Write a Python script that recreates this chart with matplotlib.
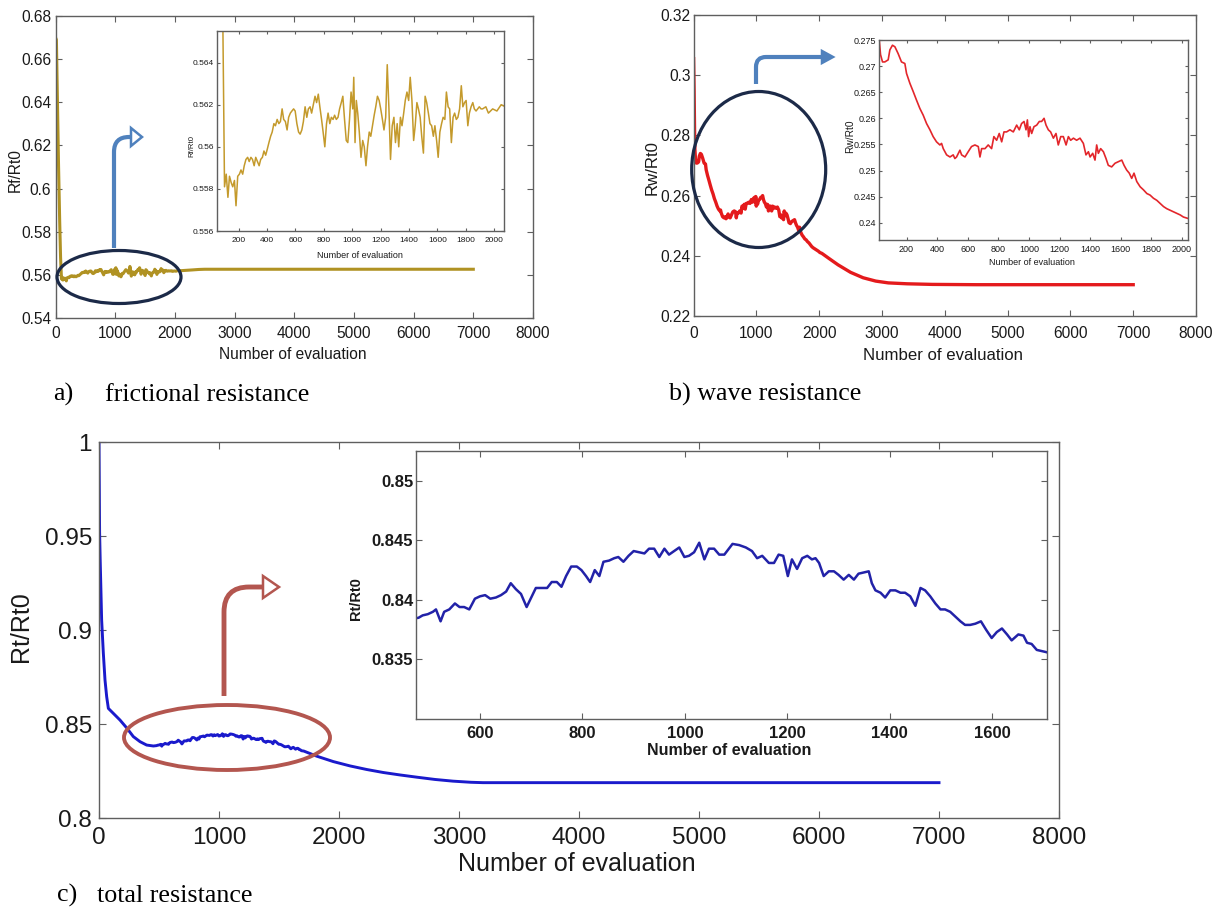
import matplotlib
matplotlib.use('Agg')
import matplotlib.pyplot as plt
from matplotlib import font_manager
from matplotlib.patches import Ellipse, Polygon, PathPatch
from matplotlib.path import Path

# ---------------- data ----------------
# a) frictional resistance
a_eval = [0, 15, 30, 50, 70, 85,
          100, 112, 124, 135, 147, 158, 170, 181, 193, 205,
          216, 228, 239, 251, 263, 274, 286, 297, 309, 320,
          332, 344, 355, 367, 378, 390, 402, 413, 425, 436,
          448, 459, 471, 483, 494, 506, 517, 529, 541, 552,
          564, 575, 587, 598, 610, 622, 633, 645, 656, 668,
          680, 691, 703, 714, 726, 738, 749, 761, 772, 784,
          795, 807, 819, 830, 842, 853, 865, 876, 888, 900,
          911, 923, 934, 946, 958, 969, 981, 992, 1004, 1011,
          1020, 1029, 1039, 1050, 1062, 1074, 1085, 1097, 1108, 1120,
          1131, 1143, 1155, 1166, 1178, 1190, 1201, 1213, 1224, 1236,
          1247, 1259, 1270, 1282, 1294, 1305, 1317, 1328, 1340, 1351,
          1363, 1374, 1386, 1398, 1409, 1421, 1433, 1444, 1456, 1467,
          1479, 1490, 1502, 1514, 1525, 1537, 1548, 1560, 1572, 1583,
          1595, 1606, 1618, 1630, 1641, 1653, 1664, 1676, 1687, 1699,
          1711, 1722, 1734, 1745, 1757, 1769, 1780, 1792, 1803, 1815,
          1826, 1838, 1850, 1861, 1873, 1885, 1896, 1908, 1919, 1942,
          1960, 1990, 2020, 2050, 2080,
          2200, 2300, 2400, 2500, 2600, 2700, 7000]
a_ratio = [0.670, 0.669, 0.645, 0.612, 0.585, 0.568,
           0.5581, 0.5587, 0.5576, 0.5586, 0.5583, 0.5581, 0.5584, 0.5572, 0.5586, 0.5587,
           0.5589, 0.5587, 0.5591, 0.5594, 0.5595, 0.5593, 0.5595, 0.5594, 0.5591, 0.5595,
           0.5593, 0.5591, 0.5594, 0.5595, 0.5598, 0.5596, 0.5599, 0.5602, 0.5605, 0.5607,
           0.5611, 0.5610, 0.5613, 0.5611, 0.5612, 0.5618, 0.5613, 0.5612, 0.5608, 0.5614,
           0.5616, 0.5617, 0.5618, 0.5617, 0.5611, 0.5607, 0.5606, 0.5608, 0.5612, 0.5619,
           0.5614, 0.5618, 0.5619, 0.5616, 0.5620, 0.5624, 0.5621, 0.5625, 0.5619, 0.5613,
           0.5607, 0.5600, 0.5611, 0.5616, 0.5611, 0.5614, 0.5613, 0.5615, 0.5613, 0.5614,
           0.5618, 0.5621, 0.5624, 0.5613, 0.5603, 0.5602, 0.5613, 0.5626, 0.5618, 0.5633,
           0.5602, 0.5622, 0.5616, 0.5607, 0.5595, 0.5603, 0.5600, 0.5591, 0.5600, 0.5607,
           0.5605, 0.5610, 0.5615, 0.5619, 0.5624, 0.5622, 0.5618, 0.5613, 0.5608, 0.5614,
           0.5639, 0.5618, 0.5594, 0.5610, 0.5614, 0.5602, 0.5611, 0.5600, 0.5614, 0.5610,
           0.5616, 0.5622, 0.5626, 0.5622, 0.5633, 0.5622, 0.5603, 0.5610, 0.5621, 0.5618,
           0.5614, 0.5605, 0.5597, 0.5624, 0.5621, 0.5616, 0.5611, 0.5610, 0.5605, 0.5610,
           0.5603, 0.5595, 0.5607, 0.5611, 0.5614, 0.5613, 0.5626, 0.5619, 0.5618, 0.5602,
           0.5614, 0.5616, 0.5613, 0.5614, 0.5618, 0.5629, 0.5619, 0.5621, 0.5622, 0.5610,
           0.5616, 0.5619, 0.5621, 0.5618, 0.5617, 0.5618, 0.5619, 0.5618, 0.5618, 0.5619,
           0.5616, 0.5618, 0.5617, 0.5620, 0.5619,
           0.5621, 0.5623, 0.5625, 0.5626, 0.5626, 0.5626, 0.5626]

# b) wave resistance
b_eval = [0, 8, 15,
          21, 30, 43, 58, 80, 91, 108, 124, 145, 167,
          189, 200, 222, 244, 265, 287, 309, 331, 353, 374,
          396, 418, 429, 440, 462, 484, 505, 516, 527, 549,
          560, 582, 603, 625, 647, 669, 680, 691, 713, 734,
          756, 771, 789, 806, 822, 837, 854, 876, 898, 920,
          937, 952, 968, 981, 990, 998, 1007, 1018, 1033, 1051,
          1068, 1083, 1099, 1112, 1127, 1142, 1160, 1177, 1192, 1208,
          1225, 1243, 1258, 1273, 1291, 1312, 1334, 1356, 1373, 1389,
          1400, 1417, 1432, 1443, 1454, 1469, 1487, 1504, 1519, 1541,
          1563, 1585, 1607, 1622, 1639, 1656, 1672, 1687, 1705, 1727,
          1749, 1771, 1792, 1814, 1836, 1858, 1880, 1901, 1923, 1945,
          1967, 1989, 2010, 2043,
          2150, 2300, 2500, 2700, 2900, 3100, 3400, 3800, 4500, 7000]
b_ratio = [0.3055, 0.295, 0.282,
           0.2752, 0.2722, 0.2708, 0.2708, 0.2712, 0.2731, 0.2740, 0.2737, 0.2724, 0.2708,
           0.2705, 0.2686, 0.2667, 0.2651, 0.2635, 0.2619, 0.2606, 0.2590, 0.2578, 0.2565,
           0.2555, 0.2549, 0.2552, 0.2542, 0.2530, 0.2526, 0.2530, 0.2523, 0.2526, 0.2539,
           0.2530, 0.2526, 0.2536, 0.2546, 0.2549, 0.2546, 0.2526, 0.2542, 0.2542, 0.2549,
           0.2542, 0.2565, 0.2558, 0.2571, 0.2555, 0.2574, 0.2574, 0.2578, 0.2574, 0.2587,
           0.2578, 0.2590, 0.2594, 0.2578, 0.2597, 0.2565, 0.2584, 0.2571, 0.2584, 0.2587,
           0.2594, 0.2594, 0.2600, 0.2587, 0.2578, 0.2574, 0.2562, 0.2571, 0.2549, 0.2565,
           0.2565, 0.2549, 0.2565, 0.2558, 0.2562, 0.2558, 0.2562, 0.2552, 0.2530, 0.2536,
           0.2526, 0.2533, 0.2520, 0.2549, 0.2533, 0.2542, 0.2536, 0.2523, 0.2510, 0.2507,
           0.2514, 0.2517, 0.2520, 0.2510, 0.2501, 0.2495, 0.2485, 0.2495, 0.2479, 0.2469,
           0.2463, 0.2456, 0.2453, 0.2447, 0.2443, 0.2437, 0.2431, 0.2427, 0.2424, 0.2421,
           0.2418, 0.2415, 0.2411, 0.2408,
           0.2392, 0.2370, 0.2345, 0.2327, 0.2316, 0.2310, 0.2307, 0.2305, 0.2304, 0.2304]

# c) total resistance
c_eval = [0, 5, 10, 22, 36, 50, 64, 78, 119, 175,
          231, 286, 342, 397, 453,
          480, 488, 498, 508, 514, 523, 530, 540, 551, 560,
          569, 579, 590, 600, 610, 620, 631, 641, 651, 660,
          670, 680, 691, 700, 709, 719, 731, 740, 750, 759,
          768, 778, 789, 798, 807, 815, 824, 833, 841, 852,
          862, 870, 880, 890, 900, 911, 921, 930, 940, 950,
          960, 969, 979, 989, 999, 1008, 1018, 1028, 1038, 1047,
          1057, 1067, 1077, 1093, 1106, 1119, 1131, 1141, 1151, 1164,
          1174, 1183, 1192, 1201, 1209, 1219, 1229, 1239, 1248, 1255,
          1262, 1271, 1281, 1291, 1300, 1310, 1320, 1330, 1339, 1349,
          1359, 1365, 1372, 1382, 1391, 1401, 1411, 1421, 1430, 1440,
          1450, 1460, 1469, 1479, 1489, 1499, 1508, 1518, 1528, 1538,
          1547, 1557, 1567, 1578, 1588, 1599, 1609, 1619, 1629, 1638,
          1651, 1661, 1668, 1677, 1687, 1697, 1707,
          1814, 1953, 2092, 2231, 2369, 2508, 2650, 2800, 2950, 3100,
          3200, 7000]
c_ratio = [1.0, 0.952, 0.937, 0.9053, 0.8878, 0.8734, 0.8645, 0.8583, 0.8557, 0.8521,
           0.8479, 0.8433, 0.8406, 0.8388, 0.8383,
           0.8385, 0.8387, 0.8388, 0.8390, 0.8392, 0.8382, 0.8390, 0.8392, 0.8397, 0.8394,
           0.8394, 0.8392, 0.8401, 0.8403, 0.8404, 0.8401, 0.8402, 0.8404, 0.8407, 0.8414,
           0.8409, 0.8405, 0.8394, 0.8402, 0.8410, 0.8410, 0.8410, 0.8415, 0.8415, 0.8411,
           0.8420, 0.8428, 0.8428, 0.8425, 0.8420, 0.8415, 0.8425, 0.8420, 0.8432, 0.8433,
           0.8435, 0.8436, 0.8432, 0.8437, 0.8441, 0.8440, 0.8439, 0.8443, 0.8443, 0.8436,
           0.8443, 0.8438, 0.8441, 0.8444, 0.8436, 0.8437, 0.8440, 0.8448, 0.8434, 0.8443,
           0.8443, 0.8438, 0.8438, 0.8447, 0.8446, 0.8444, 0.8441, 0.8435, 0.8437, 0.8431,
           0.8431, 0.8438, 0.8437, 0.8420, 0.8434, 0.8426, 0.8435, 0.8437, 0.8434, 0.8435,
           0.8431, 0.8420, 0.8424, 0.8424, 0.8421, 0.8417, 0.8421, 0.8417, 0.8422, 0.8423,
           0.8424, 0.8414, 0.8408, 0.8406, 0.8402, 0.8408, 0.8408, 0.8406, 0.8406, 0.8403,
           0.8395, 0.8410, 0.8408, 0.8403, 0.8397, 0.8392, 0.8392, 0.8390, 0.8386, 0.8382,
           0.8379, 0.8379, 0.8380, 0.8382, 0.8375, 0.8368, 0.8373, 0.8376, 0.8371, 0.8366,
           0.8371, 0.8370, 0.8364, 0.8363, 0.8358, 0.8357, 0.8356,
           0.8329, 0.8300, 0.8277, 0.8258, 0.8242, 0.8229, 0.8217, 0.8205, 0.8196, 0.8190,
           0.8188, 0.8188]

# tick positions and labels
main_xticks = [0, 1000, 2000, 3000, 4000, 5000, 6000, 7000, 8000]
main_xlabels = ['0', '1000', '2000', '3000', '4000', '5000', '6000', '7000', '8000']
a_yticks = [0.54, 0.56, 0.58, 0.60, 0.62, 0.64, 0.66, 0.68]
a_ylabels = ['0.54', '0.56', '0.58', '0.6', '0.62', '0.64', '0.66', '0.68']
ab_in_xticks = [200, 400, 600, 800, 1000, 1200, 1400, 1600, 1800, 2000]
ab_in_xlabels = ['200', '400', '600', '800', '1000', '1200', '1400', '1600', '1800', '2000']
a_in_yticks = [0.556, 0.558, 0.560, 0.562, 0.564]
a_in_ylabels = ['0.556', '0.558', '0.56', '0.562', '0.564']
b_yticks = [0.22, 0.24, 0.26, 0.28, 0.30, 0.32]
b_ylabels = ['0.22', '0.24', '0.26', '0.28', '0.3', '0.32']
b_in_yticks = [0.240, 0.245, 0.250, 0.255, 0.260, 0.265, 0.270, 0.275]
b_in_ylabels = ['0.24', '0.245', '0.25', '0.255', '0.26', '0.265', '0.27', '0.275']
c_yticks = [0.80, 0.85, 0.90, 0.95, 1.0]
c_ylabels = ['0.8', '0.85', '0.9', '0.95', '1']
c_in_xticks = [600, 800, 1000, 1200, 1400, 1600]
c_in_xlabels = ['600', '800', '1000', '1200', '1400', '1600']
c_in_yticks = [0.835, 0.840, 0.845, 0.850]
c_in_ylabels = ['0.835', '0.84', '0.845', '0.85']

# ---------------- figure ----------------
W, H = 1219, 913
fig = plt.figure(figsize=(W / 100, H / 100), dpi=100)
fig.patch.set_facecolor('white')

installed = {f.name for f in font_manager.fontManager.ttflist}
if 'Liberation Sans Narrow' in installed:
    NARROW, NS = ['Liberation Sans Narrow', 'DejaVu Sans'], 1.0
else:
    NARROW, NS = ['Liberation Sans', 'DejaVu Sans'], 0.86
SANS = ['Liberation Sans', 'DejaVu Sans']
SERIF = ['Liberation Serif', 'DejaVu Serif']
SPINE = '#5f5f5f'
TXT = '#1a1a1a'


def box(l, t, r, b, z):
    return fig.add_axes([l / W, 1 - b / H, (r - l) / W, (b - t) / H], zorder=z)


def frame(ax, xlim, ylim, xt, xtl, yt, ytl, fam, fs, weight, tlen, xpad, ypad):
    ax.set_xlim(*xlim)
    ax.set_ylim(*ylim)
    ax.set_xticks(xt)
    ax.set_yticks(yt)
    ax.set_xticklabels(xtl, family=fam, fontsize=fs, fontweight=weight, color=TXT)
    ax.set_yticklabels(ytl, family=fam, fontsize=fs, fontweight=weight, color=TXT)
    ax.tick_params(direction='in', length=tlen, width=0.8, color=SPINE,
                   top=True, right=True)
    ax.tick_params(axis='x', pad=xpad)
    ax.tick_params(axis='y', pad=ypad)
    for s in ax.spines.values():
        s.set_color(SPINE)
        s.set_linewidth(1.0)


def labels(ax, xl, yl, fam, fs, weight, xpos, ypos):
    ax.set_xlabel(xl, family=fam, fontsize=fs, fontweight=weight, color=TXT)
    ax.set_ylabel(yl, family=fam, fontsize=fs, fontweight=weight, color=TXT)
    ax.xaxis.set_label_coords(*xpos)
    ax.yaxis.set_label_coords(*ypos)


XL = 'Number of evaluation'

# ---- panel a ----
ax_a = box(55.5, 16, 533, 318, 1)
ax_a.plot(a_eval, a_ratio, color='#b09223', lw=2.2, solid_joinstyle='round')
frame(ax_a, (0, 8000), (0.54, 0.68), main_xticks, main_xlabels, a_yticks, a_ylabels,
      NARROW, 13 * NS, 'normal', 4, 6, 3)
labels(ax_a, XL, 'Rf/Rt0', NARROW, 13 * NS, 'normal', (0.497, -0.096), (-0.068, 0.49))

ax_ai = box(217, 31, 504, 231, 2)
ax_ai.plot(a_eval, a_ratio, color='#c49a2c', lw=1.1, solid_joinstyle='round')
frame(ax_ai, (47, 2070), (0.556, 0.5655), ab_in_xticks, ab_in_xlabels, a_in_yticks,
      a_in_ylabels, NARROW, 7 * NS, 'normal', 2.5, 4, 2)
labels(ax_ai, XL, 'Rf/Rt0', NARROW, 7.5 * NS, 'normal', (0.498, -0.098), (-0.077, 0.425))
ax_ai.yaxis.label.set_fontsize(6.5 * NS)

# ---- panel b ----
ax_b = box(693.6, 15, 1196, 316, 1)
ax_b.plot(b_eval, b_ratio, color='#e41a1c', lw=2.4, solid_joinstyle='round')
frame(ax_b, (0, 8000), (0.22, 0.32), main_xticks, main_xlabels, b_yticks, b_ylabels,
      NARROW, 13 * NS, 'normal', 4, 7, 2)
labels(ax_b, XL, 'Rw/Rt0', NARROW, 14 * NS, 'normal', (0.497, -0.106), (-0.0685, 0.495))

ax_bi = box(879, 40, 1188, 240, 2)
ax_bi.plot(b_eval, b_ratio, color='#e3262b', lw=1.2, solid_joinstyle='round')
frame(ax_bi, (20, 2040), (0.2367, 0.275), ab_in_xticks, ab_in_xlabels, b_in_yticks,
      b_in_ylabels, NARROW, 7.5 * NS, 'normal', 2.5, 3.4, 2)
labels(ax_bi, XL, 'Rw/Rt0', NARROW, 7.5 * NS, 'normal', (0.495, -0.088), (-0.078, 0.517))
ax_bi.yaxis.label.set_fontsize(8.5 * NS)

# ---- panel c ----
ax_c = box(99, 442, 1059, 818, 1)
ax_c.plot(c_eval, c_ratio, color='#1a1acc', lw=2.1, solid_joinstyle='round')
frame(ax_c, (0, 8000), (0.8, 1.0), main_xticks, main_xlabels, c_yticks, c_ylabels,
      SANS, 17.5, 'normal', 5, 6.5, 5)
labels(ax_c, XL, 'Rt/Rt0', SANS, 18, 'normal', (0.498, -0.09), (-0.0684, 0.51))

ax_ci = box(416, 451, 1047, 719, 2)
ax_ci.plot(c_eval, c_ratio, color='#2222a8', lw=1.8, solid_joinstyle='round')
frame(ax_ci, (475, 1707), (0.83, 0.8525), c_in_xticks, c_in_xlabels, c_in_yticks,
      c_in_ylabels, SANS, 12, 'bold', 4, 5, 2)
labels(ax_ci, XL, 'Rt/Rt0', SANS, 11.5, 'bold', (0.497, -0.091), (-0.084, 0.45))
ax_ci.yaxis.label.set_fontsize(10.5)

# ---- annotations (figure pixel overlay) ----
ov = fig.add_axes([0, 0, 1, 1], zorder=5)
ov.set_xlim(0, W)
ov.set_ylim(H, 0)
ov.axis('off')

ov.add_patch(Ellipse((119, 277), 124, 53, fill=False, ec='#1c2a48', lw=2.3))
ov.add_patch(Ellipse((758.7, 169.5), 134, 156, fill=False, ec='#1c2a48', lw=2.3))
ov.add_patch(Ellipse((227, 737.5), 206, 65, fill=False, ec='#b3564f', lw=2.8))


def bent_arrow(x0, y0, yh, r, xbase, xtip, half, color, lw, head_fc):
    verts = [(x0, y0), (x0, yh + r), (x0, yh), (x0 + r, yh), (xbase, yh)]
    codes = [Path.MOVETO, Path.LINETO, Path.CURVE3, Path.CURVE3, Path.LINETO]
    ov.add_patch(PathPatch(Path(verts, codes), fill=False, ec=color, lw=lw,
                           capstyle='butt', joinstyle='round'))
    ov.add_patch(Polygon([(xbase, yh - half), (xtip, yh), (xbase, yh + half)],
                         closed=True, fc=head_fc, ec=color, lw=1.8, joinstyle='miter'))


bent_arrow(114, 248, 137, 15, 131, 142, 9, '#4f81bd', 3.0, 'white')
bent_arrow(756, 84, 57, 10, 822, 833, 6, '#4f81bd', 3.0, '#4f81bd')
bent_arrow(224, 696, 587, 25, 263, 279, 11, '#b3564f', 3.5, 'white')

# ---- captions ----
cap = dict(family=SERIF, fontsize=18.7, va='baseline', ha='left', color='black')
fig.text(53 / W, 1 - 401 / H, 'a)', **cap)
fig.text(105 / W, 1 - 401 / H, 'frictional resistance', **cap)
fig.text(669 / W, 1 - 401 / H, 'b) wave resistance', **cap)
fig.text(57 / W, 1 - 902 / H, 'c)', **cap)
fig.text(97 / W, 1 - 902 / H, 'total resistance', **cap)

fig.savefig('out.png', dpi=100, facecolor='white')
